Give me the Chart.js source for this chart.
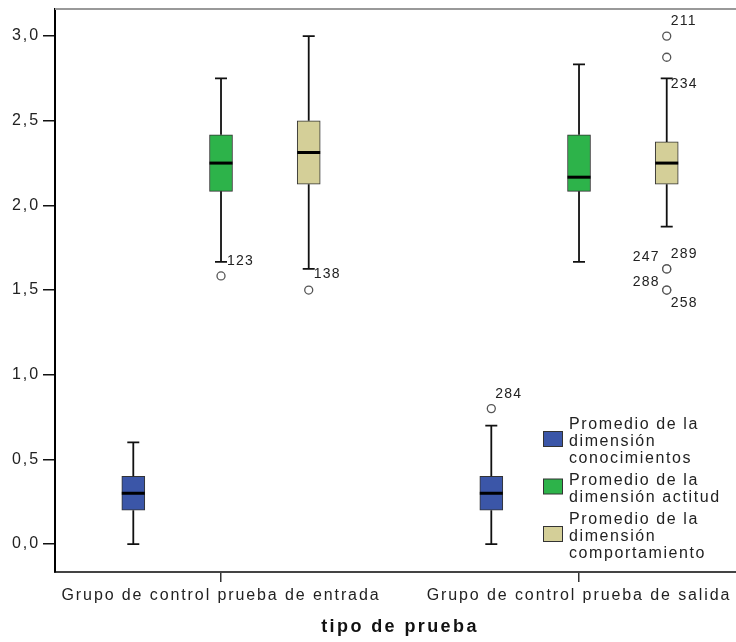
<!DOCTYPE html>
<html>
<head>
<meta charset="utf-8">
<script src="https://cdn.jsdelivr.net/npm/chart.js@4.4.1/dist/chart.umd.min.js"></script>
<style>
  html, body { margin: 0; padding: 0; background: #fff; }
  #wrap { width: 736px; height: 642px; }
</style>
</head>
<body>
<div id="wrap"><canvas id="boxChart" width="736" height="642"></canvas></div>
<script>
// groups on the x axis
const groups = ["Grupo de control prueba de entrada", "Grupo de control prueba de salida"];
// legend text, one entry per dimension (line by line)
const dimNames = [
  ["Promedio de la", "dimensión", "conocimientos"],
  ["Promedio de la", "dimensión actitud"],
  ["Promedio de la", "dimensión", "comportamiento"]
];
// box statistics: [dimension][group]
const whiskerLow = [[0.0, 0.0], [1.6667, 1.6667], [1.625, 1.875]];
const q1 = [[0.2, 0.2], [2.0833, 2.0833], [2.125, 2.125]];
const median = [[0.3, 0.3], [2.25, 2.1667], [2.3125, 2.25]];
const q3 = [[0.4, 0.4], [2.4167, 2.4167], [2.5, 2.375]];
const whiskerHigh = [[0.6, 0.7], [2.75, 2.8333], [3.0, 2.75]];
// outliers
const outlierGroup = [0, 0, 1, 1, 1, 1, 1, 1, 1];
const outlierDim = [1, 2, 0, 2, 2, 2, 2, 2, 2];
const outlierValue = [1.5833, 1.5, 0.8, 3.0, 2.875, 1.625, 1.625, 1.5, 1.5];
const outlierCase = ["123", "138", "284", "211", "234", "247", "289", "288", "258"];
// y axis ticks
const yTicks = [0, 0.5, 1, 1.5, 2, 2.5, 3];

//==========================================================================
// look
const FONT = '"Liberation Sans", Arial, sans-serif';
const boxColors = ["#3b56a8", "#2db34a", "#d4cf98"];
const dimShift = [-0.245, 0, 0.245];
// where each case number sits next to its point: [dx, dy, align]
const caseLabelShift = {
  "123": [6, -15, "left"], "138": [5, -16, "left"], "284": [4, -14, "left"],
  "211": [4, -15, "left"], "234": [4, 27, "left"], "247": [-7, -12, "right"],
  "289": [4, -15, "left"], "288": [-7, -8, "right"], "258": [4, 13, "left"]
};

const boxSets = dimNames.map((lines, d) => ({
  type: "bar",
  label: lines.join(" "),
  data: groups.map((g, gi) => ({ x: gi + dimShift[d], y: [q1[d][gi], q3[d][gi]] })),
  backgroundColor: boxColors[d],
  borderColor: "#333",
  borderWidth: 1,
  borderSkipped: false,
  grouped: false,
  barThickness: 23,
  order: 2
}));

const outlierSet = {
  type: "scatter",
  label: "atípicos",
  data: outlierValue.map((v, i) => ({ x: outlierGroup[i] + dimShift[outlierDim[i]], y: v })),
  pointRadius: 4,
  pointBorderWidth: 1.3,
  pointBorderColor: "#555",
  pointBackgroundColor: "#fff",
  order: 0
};

// whiskers, medians, case numbers, legend and axis title
const boxParts = {
  id: "boxParts",
  beforeDraw(chart) {
    chart.ctx.letterSpacing = "1.9px";
  },
  afterDatasetsDraw(chart) {
    const ctx = chart.ctx;
    const x = chart.scales.x, y = chart.scales.y;
    ctx.save();
    ctx.strokeStyle = "#111";
    dimNames.forEach((lines, d) => {
      const meta = chart.getDatasetMeta(d);
      groups.forEach((g, gi) => {
        const bar = meta.data[gi];
        const cx = x.getPixelForValue(gi + dimShift[d]);
        const yLo = y.getPixelForValue(whiskerLow[d][gi]);
        const yQ1 = y.getPixelForValue(q1[d][gi]);
        const yQ3 = y.getPixelForValue(q3[d][gi]);
        const yHi = y.getPixelForValue(whiskerHigh[d][gi]);
        const yMed = y.getPixelForValue(median[d][gi]);
        ctx.lineWidth = 1.8;
        ctx.beginPath();
        ctx.moveTo(cx, yQ3); ctx.lineTo(cx, yHi);
        ctx.moveTo(cx - 6, yHi); ctx.lineTo(cx + 6, yHi);
        ctx.moveTo(cx, yQ1); ctx.lineTo(cx, yLo);
        ctx.moveTo(cx - 6, yLo); ctx.lineTo(cx + 6, yLo);
        ctx.stroke();
        ctx.lineWidth = 3;
        ctx.strokeStyle = "#000";
        ctx.beginPath();
        ctx.moveTo(cx - bar.width / 2, yMed); ctx.lineTo(cx + bar.width / 2, yMed);
        ctx.stroke();
        ctx.strokeStyle = "#111";
      });
    });

    // case numbers
    ctx.font = "14px " + FONT;
    ctx.letterSpacing = "1.2px";
    ctx.fillStyle = "#222";
    ctx.textBaseline = "middle";
    outlierCase.forEach((c, i) => {
      const px = x.getPixelForValue(outlierGroup[i] + dimShift[outlierDim[i]]);
      const py = y.getPixelForValue(outlierValue[i]);
      const s = caseLabelShift[c];
      ctx.textAlign = s[2];
      ctx.fillText(c, px + s[0], py + s[1]);
    });
    ctx.restore();
  },
  afterDraw(chart) {
    const ctx = chart.ctx;
    const area = chart.chartArea;
    ctx.save();
    // top frame line
    ctx.strokeStyle = "#999";
    ctx.lineWidth = 2;
    ctx.beginPath();
    ctx.moveTo(area.left, area.top);
    ctx.lineTo(chart.width, area.top);
    ctx.stroke();

    // legend
    ctx.font = "16px " + FONT;
    ctx.letterSpacing = "1.6px";
    ctx.fillStyle = "#222";
    ctx.textAlign = "left";
    ctx.textBaseline = "middle";
    let ly = 425;
    dimNames.forEach((lines, d) => {
      const mid = ly + (lines.length - 1) * 17 / 2;
      ctx.fillStyle = boxColors[d];
      ctx.fillRect(543.5, mid - 10.5, 19, 15);
      ctx.strokeStyle = "#333";
      ctx.lineWidth = 1;
      ctx.strokeRect(543.5, mid - 10.5, 19, 15);
      ctx.fillStyle = "#222";
      lines.forEach((t, k) => ctx.fillText(t, 569, ly + k * 17));
      ly += lines.length * 17 + 5;
    });

    // axis title
    ctx.font = "bold 18px " + FONT;
    ctx.letterSpacing = "2.4px";
    ctx.fillStyle = "#111";
    ctx.textAlign = "center";
    ctx.fillText("tipo de prueba", 400, 627);
    ctx.restore();
  }
};

const boxChart = new Chart(document.getElementById("boxChart"), {
  type: "bar",
  data: { datasets: [...boxSets, outlierSet] },
  options: {
    responsive: false,
    animation: false,
    events: [],
    layout: { autoPadding: false, padding: { top: 9, right: 0, left: 0, bottom: 0 } },
    plugins: {
      legend: { display: false },
      tooltip: { enabled: false }
    },
    scales: {
      x: {
        type: "linear",
        offset: false,
        min: -0.4637,
        max: 1.4385,
        afterBuildTicks: (s) => {
          s.ticks = groups.map((g, i) => ({ value: i }));
        },
        afterFit: (s) => {
          s.height = 70;
          s.paddingLeft = 0;
          s.paddingRight = 0;
        },
        ticks: {
          callback: (v) => groups[v],
          color: "#222",
          font: { family: FONT, size: 16 },
          maxRotation: 0,
          minRotation: 0,
          autoSkip: false,
          padding: 4
        },
        grid: { offset: false, drawOnChartArea: false, tickLength: 10, color: "#333", lineWidth: 1.5 },
        border: { color: "#444", width: 2 }
      },
      y: {
        min: -0.165,
        max: 3.16,
        afterBuildTicks: (s) => {
          s.ticks = yTicks.map((v) => ({ value: v }));
        },
        afterFit: (s) => {
          s.width = 55;
          s.paddingTop = 0;
          s.paddingBottom = 0;
        },
        ticks: {
          callback: (v) => v.toFixed(1).replace(".", ","),
          color: "#222",
          font: { family: FONT, size: 16 },
          padding: 3
        },
        grid: { drawOnChartArea: false, tickLength: 12, color: "#111", lineWidth: 1.5 },
        border: { color: "#000", width: 2 }
      }
    }
  },
  plugins: [boxParts]
});
</script>
</body>
</html>
